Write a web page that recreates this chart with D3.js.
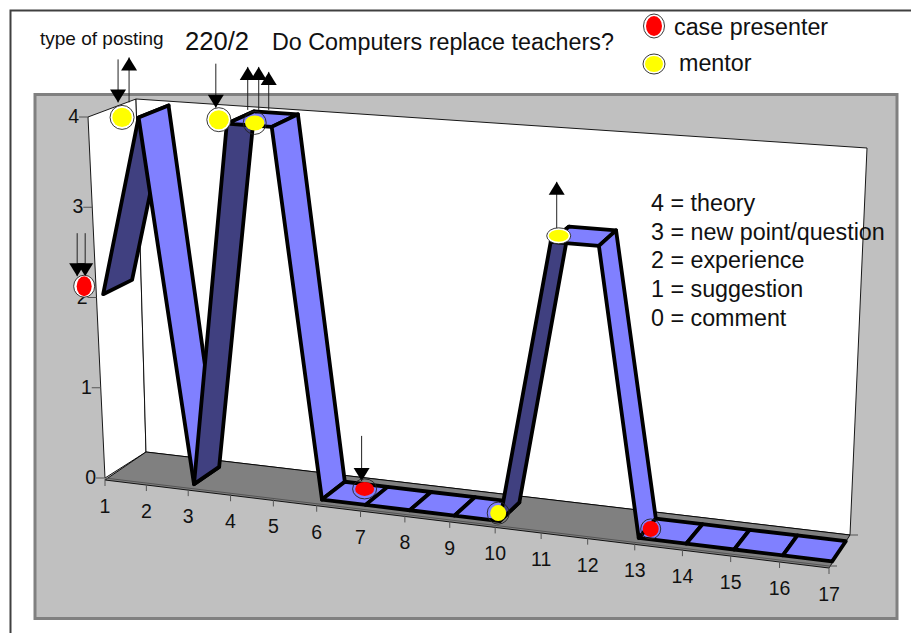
<!DOCTYPE html>
<html>
<head>
<meta charset="utf-8">
<script src="https://cdn.jsdelivr.net/npm/d3@7"></script>
<style>
  body { margin: 0; background: #fff; }
  text { font-family: "Liberation Sans", Arial, sans-serif; fill: #111; }
</style>
</head>
<body>
<svg id="chart" width="911" height="633"></svg>
<script>
// values
const posts = [1, 2, 3, 4, 5, 6, 7, 8, 9, 10, 11, 12, 13, 14, 15, 16, 17];
const postingType = [2, 4, 0, 4, 4, 0, 0, 0, 0, 0, 3, 3, 0, 0, 0, 0, 0];
const valueTicks = [0, 1, 2, 3, 4];
const presenterPosts = [1, 7, 13];
const mentorPosts = [2, 4, 5, 10, 11];
const keyLines = ["4 = theory", "3 = new point/question", "2 = experience", "1 = suggestion", "0 = comment"];

const svg = d3.select("#chart");

// corners of the 3d box on screen, named u (post) d (depth) v (value)
const box = {
    u0d0v0: [105, 478], u1d0v0: [829, 566], u0d1v0: [146, 452], u1d1v0: [850, 535],
    u0d0v1: [88, 117], u1d0v1: [852, 172], u0d1v1: [136, 99], u1d1v1: [867, 148]
};
const ribbonFront = 0.15, ribbonBack = 0.8;

const postScale = d3.scaleLinear().domain([1, 17]).range([0, 1]);
const valueScale = d3.scaleLinear().domain([0, 4]).range([0, 1]);

function mix(a, b, k) {
    return [a[0] + (b[0] - a[0]) * k, a[1] + (b[1] - a[1]) * k];
}

function project(post, value, depth) {
    const u = postScale(post);
    const t = u / (1.1 - 0.1 * u); // posts get wider to the right
    const floor = mix(mix(box.u0d0v0, box.u1d0v0, t), mix(box.u0d1v0, box.u1d1v0, t), depth);
    const top = mix(mix(box.u0d0v1, box.u1d0v1, t), mix(box.u0d1v1, box.u1d1v1, t), depth);
    return mix(floor, top, valueScale(value));
}

const outline = d3.line();
function poly(points) { return outline(points) + "Z"; }

// chart area
svg.append("rect").attr("x", 10.5).attr("y", 10.5).attr("width", 920).attr("height", 640)
    .attr("fill", "#fff").attr("stroke", "#404040").attr("stroke-width", 2);
svg.append("rect").attr("x", 35).attr("y", 94.5).attr("width", 862).attr("height", 524)
    .attr("fill", "#c0c0c0").attr("stroke", "#808080").attr("stroke-width", 3);

// walls and floor
const walls = [
    [project(1, 0, 0), project(1, 4, 0), project(1, 4, 1), project(1, 0, 1)],
    [project(1, 0, 1), project(1, 4, 1), project(17, 4, 1), project(17, 0, 1)]
];
svg.selectAll(".wall").data(walls).enter().append("path")
    .attr("class", "wall")
    .attr("d", poly)
    .attr("fill", "#fff")
    .attr("stroke", "#000")
    .attr("stroke-width", 0.9);

const floorCorners = [project(1, 0, 0), project(17, 0, 0), project(17, 0, 1), project(1, 0, 1)];
svg.append("path")
    .attr("d", poly(floorCorners.map(function (p, i) { return i < 2 ? [p[0], p[1] + 2] : p; })))
    .attr("fill", "#808080")
    .attr("stroke", "#000")
    .attr("stroke-width", 0.9);
svg.append("path")
    .attr("d", outline([project(1, 0, 0), project(17, 0, 0)]))
    .attr("stroke", "#555")
    .attr("stroke-width", 1);

// value axis
valueTicks.forEach(function (d) {
    const p = project(1, d, 0);
    svg.append("line")
        .attr("x1", p[0] - 9).attr("x2", p[0]).attr("y1", p[1]).attr("y2", p[1])
        .attr("stroke", "#555").attr("stroke-width", 1);
    svg.append("text")
        .attr("x", p[0] - 9).attr("y", p[1] + 6)
        .attr("text-anchor", "end")
        .attr("font-size", 19.5)
        .text(d);
});

// post axis
posts.forEach(function (d) {
    const p = project(d, 0, 0);
    svg.append("line")
        .attr("x1", p[0]).attr("x2", p[0]).attr("y1", p[1] + 1).attr("y2", p[1] + 8)
        .attr("stroke", "#555").attr("stroke-width", 1);
    svg.append("text")
        .attr("x", p[0]).attr("y", p[1] + 35)
        .attr("text-anchor", "middle")
        .attr("font-size", 19.5)
        .text(d);
});
[project(17, 0, 0), project(17, 0, 1)].forEach(function (p) {
    svg.append("line")
        .attr("x1", p[0]).attr("x2", p[0] + 8).attr("y1", p[1]).attr("y2", p[1])
        .attr("stroke", "#555").attr("stroke-width", 1);
});

// the ribbon, one band per step, painted left to right
const bands = d3.pairs(posts.map(function (p, i) { return { post: p, value: postingType[i] }; }));
svg.selectAll(".band").data(bands).enter().append("path")
    .attr("class", "band")
    .attr("d", function (d) {
        return poly([
            project(d[0].post, d[0].value, ribbonFront),
            project(d[0].post, d[0].value, ribbonBack),
            project(d[1].post, d[1].value, ribbonBack),
            project(d[1].post, d[1].value, ribbonFront)
        ]);
    })
    .attr("fill", function (d) { return d[1].value > d[0].value ? "#404080" : "#8080ff"; })
    .attr("stroke", "#000")
    .attr("stroke-width", 3.8)
    .attr("stroke-linejoin", "round");

// markers are placed by hand next to the ribbon in the original
const markerLayout = {
    1: { dx: -19, dy: -8, rx: 10.5, ry: 11, irx: 7.5, iry: 10, ring: "#fff" },
    2: { dx: -16.5, dy: 0, rx: 12, ry: 12, irx: 9.7, iry: 9.7, ring: "#fff" },
    4: { dx: -8, dy: -4, rx: 12, ry: 12, irx: 10, iry: 9.5, ring: "#fff" },
    5: { dx: -17, dy: -4, rx: 11.5, ry: 11.5, irx: 9.7, iry: 7.5, ring: "none" },
    7: { dx: -1, dy: -16, rx: 12, ry: 10, irx: 9.5, iry: 7, ring: "none" },
    10: { dx: -1.5, dy: -8, rx: 11, ry: 11, irx: 8, iry: 8, ring: "none" },
    11: { dx: 8, dy: -6, rx: 12, ry: 8, irx: 10, iry: 6, ring: "#fff" },
    13: { dx: 12, dy: -9, rx: 10, ry: 10, irx: 8, iry: 8, ring: "none" }
};

function markerCentre(post) {
    const p = project(post, postingType[post - 1], ribbonFront);
    const m = markerLayout[post];
    return [p[0] + m.dx, p[1] + m.dy];
}

function drawMarker(x, y, m, colour) {
    svg.append("ellipse").attr("cx", x).attr("cy", y).attr("rx", m.rx).attr("ry", m.ry)
        .attr("fill", m.ring).attr("stroke", "#222").attr("stroke-width", 0.9);
    svg.append("ellipse").attr("cx", x).attr("cy", y).attr("rx", m.irx).attr("ry", m.iry)
        .attr("fill", colour);
}

// arrows: dir 1 is down, -1 is up, offsets are from the marker of that post
const arrowLayout = [
    { post: 1, dir: 1, dx: -7, tip: -10, tail: -53 },
    { post: 1, dir: 1, dx: 1, tip: -10, tail: -53 },
    { post: 2, dir: 1, dx: -4, tip: -15, tail: -58 },
    { post: 2, dir: -1, dx: 7, tip: -60, tail: -15 },
    { post: 4, dir: 1, dx: -3, tip: -12, tail: -56 },
    { post: 5, dir: -1, dx: -7, tip: -56, tail: -13 },
    { post: 5, dir: -1, dx: 4, tip: -56, tail: -13 },
    { post: 5, dir: -1, dx: 14, tip: -51, tail: -13 },
    { post: 7, dir: 1, dx: -3, tip: -8, tail: -53 },
    { post: 11, dir: -1, dx: -2, tip: -54, tail: -6 }
];

arrowLayout.forEach(function (a) {
    const c = markerCentre(a.post);
    const x = c[0] + a.dx;
    const tip = c[1] + a.tip;
    svg.append("line")
        .attr("x1", x).attr("x2", x).attr("y1", c[1] + a.tail).attr("y2", tip)
        .attr("stroke", "#222").attr("stroke-width", 1);
    svg.append("path")
        .attr("d", poly([[x, tip], [x - 8, tip - a.dir * 13], [x + 8, tip - a.dir * 13]]))
        .attr("fill", "#000");
});

presenterPosts.forEach(function (p) {
    const c = markerCentre(p);
    drawMarker(c[0], c[1], markerLayout[p], "#ff0000");
});
mentorPosts.forEach(function (p) {
    const c = markerCentre(p);
    drawMarker(c[0], c[1], markerLayout[p], "#ffff00");
});

// headings
svg.append("text").attr("x", 40).attr("y", 45).attr("font-size", 19).text("type of posting");
svg.append("text").attr("x", 185).attr("y", 50).attr("font-size", 25.6).text("220/2");
svg.append("text").attr("x", 272).attr("y", 50).attr("font-size", 23.3).text("Do Computers replace teachers?");

// legend
drawMarker(654, 26, { rx: 10.5, ry: 12, irx: 8, iry: 10, ring: "#fff" }, "#ff0000");
drawMarker(654, 64, { rx: 11, ry: 10, irx: 9, iry: 8, ring: "#fff" }, "#ffff00");
svg.append("text").attr("x", 674).attr("y", 35).attr("font-size", 23.3).text("case presenter");
svg.append("text").attr("x", 679).attr("y", 71).attr("font-size", 23.3).text("mentor");

// key to the values
svg.selectAll(".key").data(keyLines).enter().append("text")
    .attr("class", "key")
    .attr("x", 651)
    .attr("y", function (d, i) { return 211 + i * 28.7; })
    .attr("font-size", 23.3)
    .text(function (d) { return d; });
</script>
</body>
</html>
